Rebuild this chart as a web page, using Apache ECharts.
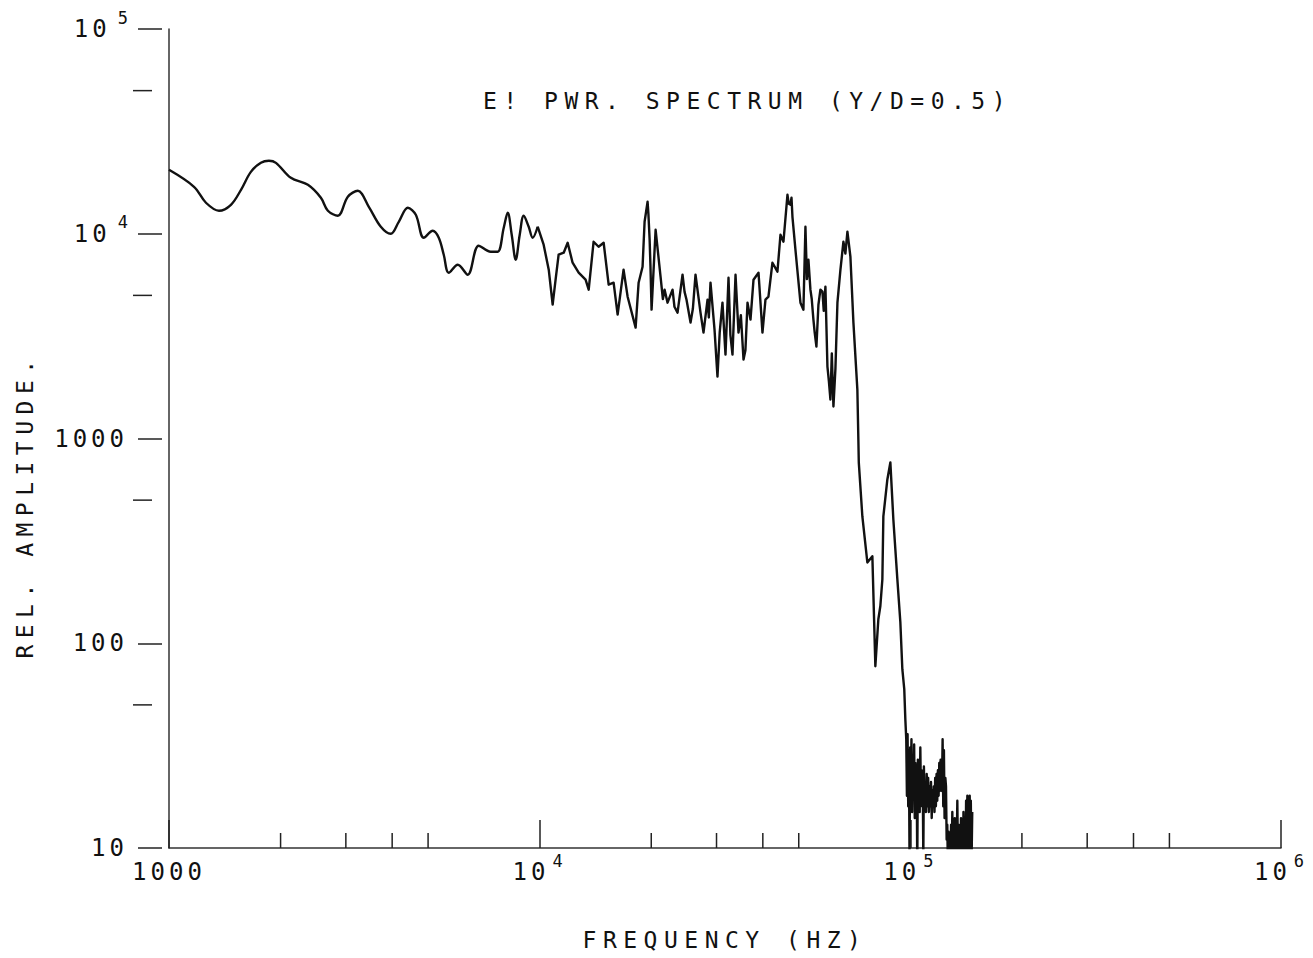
<!DOCTYPE html>
<html>
<head>
<meta charset="utf-8">
<script src="https://cdn.jsdelivr.net/npm/echarts@6/dist/echarts.min.js"></script>
<style>
html,body{margin:0;padding:0;background:#fff;}
#chart{width:1313px;height:958px;}
#chart text[style*="23px"]{letter-spacing:6.5px;}
#chart text[style*="24px"]{letter-spacing:4px;}
</style>
</head>
<body>
<div id="chart"></div>
<script>
// ---- data ----
const titleText = 'E! PWR. SPECTRUM (Y/D=0.5)';
const xName = 'FREQUENCY (HZ)';
const yName = 'REL. AMPLITUDE.';

const freqHz = [
1000,1168,1258,1364,1469,1564,1663,1770,1860,1943,
2132,2370,2569,2683,2855,3037,3232,3460,3728,3966,
4168,4409,4633,4867,5147,5343,5511,5684,6012,6395,
6848,7378,7705,8000,8200,8406,8618,8835,9055,9342,
9575,9877,10250,10580,10840,11040,11250,11610,11900,12270,
12740,13300,13560,13980,14420,14880,15350,15830,16230,16840,
17270,18150,18490,18950,19190,19550,19800,20040,20550,21190,
21730,22130,22830,23550,24290,24900,25530,26330,27160,27670,
28370,28900,29630,30180,31130,31720,32320,33130,33760,34390,
35480,36370,37050,37750,38940,39910,40660,41420,42460,43800,
44630,45470,46610,47490,48080,48980,50530,51470,52120,53100,
53760,54770,55800,57200,57920,59010,59750,60870,62020,63580,
64780,65990,67650,68920,70220,71960,72410,72600,74230,76570,
78990,80470,81980,83010,84050,84570,86700,88330,89990,92260,
93980,95160,96300,96940,
97500,97900,98300,98700,99100,99500,99900,100300,100700,101100,
101500,102000,102400,102800,103200,103600,104000,104400,104800,105200,
105600,106000,106400,106800,107200,107600,108000,108400,108800,109200,
109700,110200,110700,111200,111700,112200,112700,113200,113700,114200,
114700,115200,115700,116200,116700,117200,117700,118200,118700,119200,
119700,120200,120700,121200,121700,122200,122700,123200,123700,124300,
124800,125300,125800,126300,126800,127300,127800,128300,128800,129300,
129800,130300,130800,131300,131800,132300,132800,133300,133900,134500,
135000,135500,136000,136500,137000,137600,138100,138600,139100,139700,
140300,140800,141400,142000,142500,143000,143500,144000,144600,145100,
145600,146200,146900
];

const relAmplitude = [
20520,16960,14170,12950,13850,16390,20060,22200,22710,22200,
18760,17340,14990,12950,12240,15160,16210,13540,10820,10000,
11440,13390,12380,9561,10340,9561,7900,6453,7060,6310,
8740,8170,8170,10700,12660,9888,7468,9888,12240,10820,
9561,10820,8837,6674,4505,5966,7900,8079,9038,7220,
6453,5966,5332,9141,8642,9038,5640,5768,4026,6674,
4928,3479,5768,6902,11440,14330,9348,4258,10460,6169,
5332,4607,5332,4117,6310,4764,3680,6310,4117,3289,
4764,5768,3402,2006,4607,2569,6102,2569,6310,3289,
2429,4607,3806,5966,6453,3289,4764,4928,7220,6526,
9888,9141,15500,13850,12100,8356,4607,4258,10820,7468,
5332,3806,2810,5332,5213,5514,2245,1550,1433,4607,
6674,9141,10230,7724,3680,1734,989,764,416,248,
266,77.2,131,152,205,416,631,764,402,205,
127,74.7,59.7,42.6,
34,18,36,16,30,9,31,19,34,15,
28,20,32,14,26,18,25,8,27,17,
22,15,31,18,24,16,22,9,25,17,
21,15,23,16,22,15,20,16,21,14,
19,16,20,15,22,16,23,17,24,18,
26,19,27,20,19,34,16,30,14,22,
20,11,13,8,12,9,11,8,13,9,
15,8,12,9,14,8,11,9,17,8,
13,9,12,8,14,9,12,8,15,9,
13,8,17,9,18,8,16,9,18,10,
17,8,15
];

// additional readings in the noisy band (merged into the trace by frequency)
const extraFreqHz = [19650,19900,21500,23100,24600,25900,28600,30600,32700,34900,35900,
  47000,47800,52600,54200,55200,56500,58400,60300,61400,62800,66800];
const extraRelAmplitude = [12500,7000,4800,4400,5200,4300,3900,3300,3200,4000,2700,
  14000,15000,6000,4800,3300,4500,4200,1900,2600,2200,8000];

const xMinorTicks = [2000,3000,4000,5000,20000,30000,40000,50000,200000,300000,400000,500000];
const yMinorTicks = [50,500,5000,50000];
const smoothUpTo = 10000; // the low-frequency part of the trace is drawn as a smooth curve

// ---- chart ----
const MONO = '"DejaVu Sans Mono", monospace';
const INK = '#111';

function decadeLabel(v) {
  const e = Math.round(Math.log10(v));
  if (e <= 3) return '{n|' + Math.round(v) + '}';
  return '{n|10}{s|' + e + '}';
}
const richLabels = {
  n: {fontFamily: MONO, fontSize: 24, lineHeight: 40, color: INK},
  s: {fontFamily: MONO, fontSize: 17, lineHeight: 17, verticalAlign: 'top', padding: [0, 0, 0, 7], color: INK}
};

const points = freqHz.map((f, i) => [f, relAmplitude[i]])
  .concat(extraFreqHz.map((f, i) => [f, extraRelAmplitude[i]]))
  .sort((a, b) => a[0] - b[0]);
const lowPart = points.filter(p => p[0] <= smoothUpTo);
const highPart = points.slice(lowPart.length - 1);

const chart = echarts.init(document.getElementById('chart'), null, {renderer: 'svg', width: 1313, height: 958});

const traceStyle = {color: INK, width: 2.4, join: 'round'};

const option = {
  backgroundColor: '#fff',
  animation: false,
  title: {
    text: titleText, left: 478, top: 84,
    textStyle: {fontFamily: MONO, fontSize: 23, fontWeight: 'normal', color: INK}
  },
  grid: {left: 169, right: 32, top: 29, bottom: 110, containLabel: false, outerBoundsMode: 'none'},
  xAxis: {
    type: 'log', logBase: 10, min: 1000, max: 1000000,
    name: xName, nameLocation: 'middle', nameGap: 80,
    nameTextStyle: {fontFamily: MONO, fontSize: 23, color: INK},
    axisLine: {show: true, lineStyle: {color: '#333', width: 1.5}},
    axisTick: {show: true, inside: true, length: 28, lineStyle: {color: '#222', width: 1.5}},
    axisLabel: {formatter: decadeLabel, margin: 4, fontFamily: MONO, fontSize: 24, color: INK, rich: richLabels},
    splitLine: {show: false}
  },
  yAxis: [
    {
      type: 'log', logBase: 10, min: 10, max: 100000, offset: 7, position: 'left',
      axisLine: {show: false},
      axisTick: {show: true, inside: false, length: 24, lineStyle: {color: '#222', width: 1.5}},
      axisLabel: {formatter: decadeLabel, margin: 34, fontFamily: MONO, fontSize: 24, color: INK, rich: richLabels},
      splitLine: {show: false}
    },
    {
      type: 'log', logBase: 10, min: 10, max: 100000, position: 'left', offset: 0,
      axisLine: {show: true, lineStyle: {color: '#333', width: 1.5}},
      axisTick: {show: false}, axisLabel: {show: false}, splitLine: {show: false}
    }
  ],
  graphic: [{
    type: 'text', x: 25, y: 506, rotation: Math.PI / 2, silent: true,
    style: {text: yName, font: '23px "DejaVu Sans Mono", monospace', fill: INK, align: 'center', verticalAlign: 'middle'}
  }],
  series: [
    {
      type: 'line', xAxisIndex: 0, yAxisIndex: 0, data: lowPart,
      showSymbol: false, symbol: 'none', clip: true, smooth: 0.35,
      lineStyle: traceStyle
    },
    {
      type: 'line', xAxisIndex: 0, yAxisIndex: 0, data: highPart,
      showSymbol: false, symbol: 'none', clip: true,
      lineStyle: traceStyle
    },
    {
      type: 'custom', xAxisIndex: 0, yAxisIndex: 0, silent: true, clip: false,
      data: xMinorTicks.map(v => [v, 10]),
      renderItem: (params, api) => {
        const c = api.coord([api.value(0), api.value(1)]);
        return {type: 'line', shape: {x1: c[0], y1: c[1], x2: c[0], y2: c[1] - 15}, style: {stroke: '#222', lineWidth: 1.5}};
      }
    },
    {
      type: 'custom', xAxisIndex: 0, yAxisIndex: 0, silent: true, clip: false,
      data: yMinorTicks.map(v => [1000, v]),
      renderItem: (params, api) => {
        const c = api.coord([api.value(0), api.value(1)]);
        return {type: 'line', shape: {x1: c[0] - 36, y1: c[1], x2: c[0] - 17, y2: c[1]}, style: {stroke: '#222', lineWidth: 1.5}};
      }
    }
  ]
};
chart.setOption(option);
</script>
</body>
</html>
